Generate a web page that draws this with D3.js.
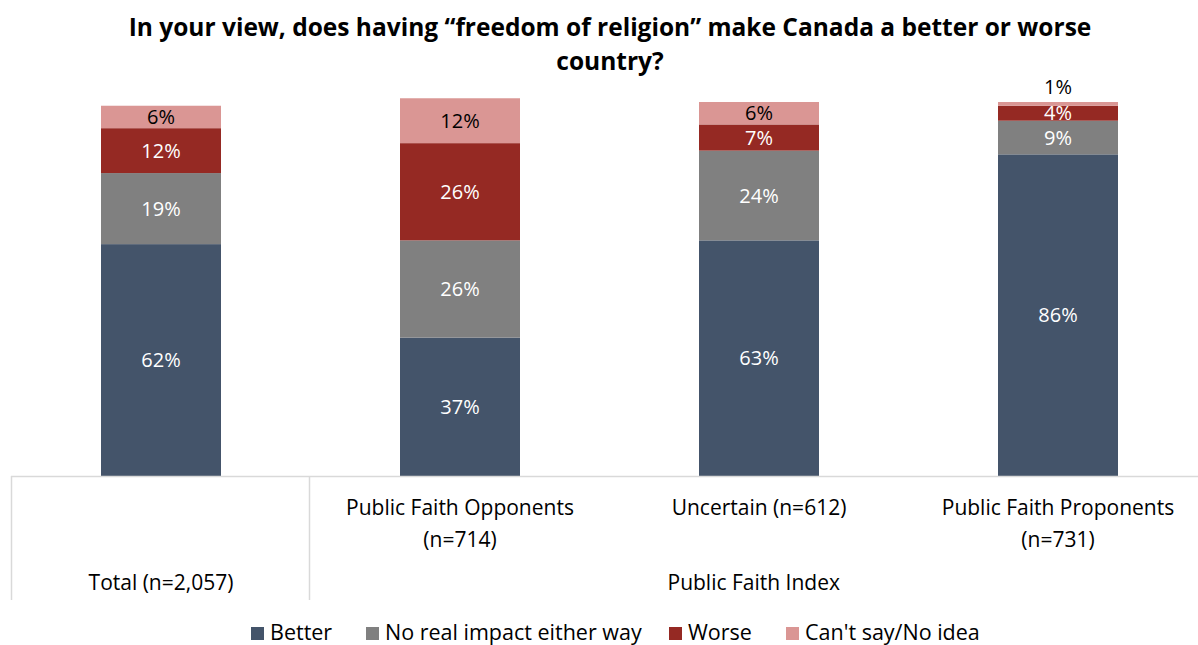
<!DOCTYPE html>
<html>
<head>
<meta charset="utf-8">
<script src="https://cdn.jsdelivr.net/npm/d3@7"></script>
<style>
  html, body { margin: 0; padding: 0; background: #fff; }
  svg { display: block; font-family: "Open Sans", Lato, sans-serif; }
</style>
</head>
<body>
<svg id="chart" width="1198" height="645"></svg>
<script>
// Survey groups and answer shares (%)
const groups = ["Total (n=2,057)", "Public Faith Opponents (n=714)", "Uncertain (n=612)", "Public Faith Proponents (n=731)"];
const groupLines = [[], ["Public Faith Opponents", "(n=714)"], ["Uncertain (n=612)"], ["Public Faith Proponents", "(n=731)"]];
const seriesNames = ["Better", "No real impact either way", "Worse", "Can't say/No idea"];
const better   = [62, 37, 63, 86];
const noImpact = [19, 26, 24, 9];
const worse    = [12, 26, 7, 4];
const cantSay  = [6, 12, 6, 1];
const colors = ["#44546a", "#808080", "#952923", "#da9694"];
const labelColors = ["#ffffff", "#ffffff", "#ffffff", "#000000"];

const svg = d3.select("#chart");
const W = 1198;
const fs = "20px";
const catFs = "21px";

// Title
const title = svg.append("text").attr("text-anchor", "middle")
  .style("font-weight", "bold").style("font-size", "24.5px").attr("fill", "#000");
title.append("tspan").attr("x", 610).attr("y", 36).text("In your view, does having \u201cfreedom of religion\u201d make Canada a better or worse");
title.append("tspan").attr("x", 610).attr("y", 70).text("country?");

// Scales
const baseY = 476;
const x = d3.scaleBand().domain(groups).range([11.5, 1207.5]).paddingInner(0).paddingOuter(0);
const barW = 120;
const y = d3.scaleLinear().domain([0, 100]).range([baseY, baseY - 374]);

const rows = groups.map((g, i) => ({
  group: g, Better: better[i], "No real impact either way": noImpact[i],
  Worse: worse[i], "Can't say/No idea": cantSay[i]
}));
const stacked = d3.stack().keys(seriesNames)(rows);

const layers = svg.append("g").selectAll("g").data(stacked).join("g")
  .attr("fill", (d, i) => colors[i]);

layers.selectAll("rect").data(d => d).join("rect")
  .attr("x", d => x(d.data.group) + x.bandwidth() / 2 - barW / 2)
  .attr("width", barW)
  .attr("y", d => y(d[1]))
  .attr("height", d => y(d[0]) - y(d[1]));

// Value labels
stacked.forEach((layer, si) => {
  layer.forEach(d => {
    const v = d[1] - d[0];
    const cx = x(d.data.group) + x.bandwidth() / 2;
    const h = y(d[0]) - y(d[1]);
    let ty = (y(d[0]) + y(d[1])) / 2 + 7;
    let fill = labelColors[si];
    if (h < 12 && si === 3) { ty = y(d[1]) - 8; fill = "#000"; }
    svg.append("text").attr("x", cx).attr("y", ty).attr("text-anchor", "middle")
      .style("font-size", fs).attr("fill", fill).text(v + "%");
  });
});

// Category axis with grouping
const axisColor = "#d9d9d9";
svg.append("line").attr("x1", 11).attr("x2", W).attr("y1", baseY + 0.5).attr("y2", baseY + 0.5)
  .attr("stroke", axisColor).attr("stroke-width", 1.5);
svg.append("line").attr("x1", 11.5).attr("x2", 11.5).attr("y1", baseY).attr("y2", 600)
  .attr("stroke", axisColor).attr("stroke-width", 1.5);
const divX = x(groups[1]) - 1;
svg.append("line").attr("x1", divX).attr("x2", divX).attr("y1", baseY).attr("y2", 600)
  .attr("stroke", axisColor).attr("stroke-width", 1.5);

groups.forEach((g, i) => {
  const cx = x(g) + x.bandwidth() / 2;
  groupLines[i].forEach((line, li) => {
    svg.append("text").attr("x", cx).attr("y", 515 + li * 32).attr("text-anchor", "middle")
      .style("font-size", catFs).attr("fill", "#000").text(line);
  });
});
svg.append("text").attr("x", x(groups[0]) + x.bandwidth() / 2).attr("y", 590).attr("text-anchor", "middle")
  .style("font-size", catFs).attr("fill", "#000").text("Total (n=2,057)");
svg.append("text").attr("x", (divX + W) / 2).attr("y", 590).attr("text-anchor", "middle")
  .style("font-size", catFs).attr("fill", "#000").text("Public Faith Index");

// Legend
const legendX = [251, 366, 669, 786];
const legend = svg.append("g");
seriesNames.forEach((s, i) => {
  legend.append("rect").attr("x", legendX[i]).attr("y", 627).attr("width", 13).attr("height", 13).attr("fill", colors[i]);
  legend.append("text").attr("x", legendX[i] + 19).attr("y", 640).style("font-size", "21.5px").attr("fill", "#000").text(s);
});
</script>
</body>
</html>
